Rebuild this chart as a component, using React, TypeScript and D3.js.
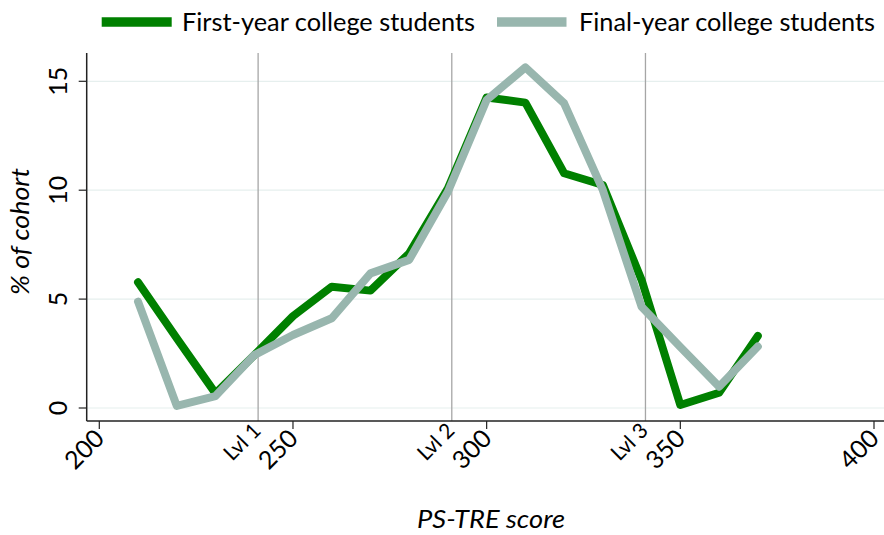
import React from "react";
import * as d3 from "d3";

const scores = [210, 220, 230, 240, 250, 260, 270, 280, 290, 300, 310, 320, 330, 340, 350, 360, 370];
const firstYear = [5.77, 3.2, 0.67, 2.43, 4.22, 5.57, 5.39, 7.1, 10.09, 14.26, 14.02, 10.78, 10.24, 5.88, 0.14, 0.7, 3.31];
const finalYear = [4.88, 0.1, 0.55, 2.43, 3.35, 4.12, 6.18, 6.8, 9.93, 14.14, 15.64, 13.99, 10.0, 4.65, 2.8, 0.98, 2.82];
const xTicks = [200, 250, 300, 350, 400];
const yTicks = [0, 5, 10, 15];
const levelCuts = [241, 291, 341];
const levelLabels = ["Lvl 1", "Lvl 2", "Lvl 3"];
const seriesNames = ["First-year college students", "Final-year college students"];
const seriesColors = ["#008000", "#98b6ae"];

const FONT = "Lato, 'Open Sans', sans-serif";

export default function App() {
  const W = 884, H = 535;
  const left = 86.7, right = 884, top = 53, bottom = 421;
  const x = d3.scaleLinear().domain([200, 400]).range([99.3, 874]);
  const y = d3.scaleLinear().domain([0, 15]).range([408, 81.3]);
  const line = d3
    .line<[number, number]>()
    .x((d) => x(d[0]))
    .y((d) => y(d[1]));
  const series = [firstYear, finalYear].map((vals) => scores.map((s, i) => [s, vals[i]] as [number, number]));
  const legendItems = [
    { x0: 101.7, x1: 171.7, tx: 182, tw: 293 },
    { x0: 497, x1: 566.5, tx: 579, tw: 296 },
  ];

  return (
    <svg width={W} height={H} style={{ position: "fixed", left: 0, top: 0, background: "#fff" }} fontFamily={FONT}>
      <rect x={0} y={0} width={W} height={H} fill="#fff" />
      {yTicks.map((t) => (
        <line key={"g" + t} x1={left} x2={right} y1={y(t)} y2={y(t)} stroke="#e6efee" strokeWidth={1.2} />
      ))}
      {levelCuts.map((c) => (
        <line key={"l" + c} x1={x(c)} x2={x(c)} y1={top} y2={bottom} stroke="#a6a6a6" strokeWidth={1.3} />
      ))}
      {series.map((d, i) => (
        <path
          key={"s" + i}
          d={line(d) || ""}
          fill="none"
          stroke={seriesColors[i]}
          strokeWidth={8}
          strokeLinejoin="round"
          strokeLinecap="round"
        />
      ))}
      <line x1={left} x2={left} y1={top} y2={bottom} stroke="#222" strokeWidth={1.5} />
      <line x1={left} x2={right} y1={bottom} y2={bottom} stroke="#222" strokeWidth={1.5} />
      {yTicks.map((t) => (
        <g key={"yt" + t}>
          <line x1={left - 8} x2={left} y1={y(t)} y2={y(t)} stroke="#222" strokeWidth={1.2} />
          <text
            transform={`translate(67,${y(t)}) rotate(-90)`}
            textAnchor="middle"
            fontSize={25}
            fill="#000"
          >
            {t}
          </text>
        </g>
      ))}
      {xTicks.map((t) => (
        <g key={"xt" + t}>
          <line x1={x(t)} x2={x(t)} y1={bottom} y2={bottom + 8} stroke="#222" strokeWidth={1.2} />
          <text
            transform={`translate(${x(t) + 6.5},440) rotate(-45)`}
            textAnchor="end"
            fontSize={25}
            fill="#000"
          >
            {t}
          </text>
        </g>
      ))}
      {levelCuts.map((c, i) => (
        <text
          key={"ll" + c}
          transform={`translate(${x(c) + 4},432) rotate(-45)`}
          textAnchor="end"
          fontSize={21}
          fill="#000"
        >
          {levelLabels[i]}
        </text>
      ))}
      <text
        x={491}
        y={528}
        textAnchor="middle"
        fontSize={25}
        fontStyle="italic"
        textLength={148}
        lengthAdjust="spacingAndGlyphs"
        fill="#000"
      >
        PS-TRE score
      </text>
      <text
        transform={`translate(29,231.5) rotate(-90)`}
        textAnchor="middle"
        fontSize={25}
        fontStyle="italic"
        textLength={127}
        lengthAdjust="spacingAndGlyphs"
        fill="#000"
      >
        % of cohort
      </text>
      {legendItems.map((it, i) => (
        <g key={"lg" + i}>
          <line x1={it.x0} x2={it.x1} y1={22} y2={22} stroke={seriesColors[i]} strokeWidth={9.5} />
          <text
            x={it.tx}
            y={31}
            fontSize={25}
            textLength={it.tw}
            lengthAdjust="spacingAndGlyphs"
            fill="#000"
          >
            {seriesNames[i]}
          </text>
        </g>
      ))}
    </svg>
  );
}
